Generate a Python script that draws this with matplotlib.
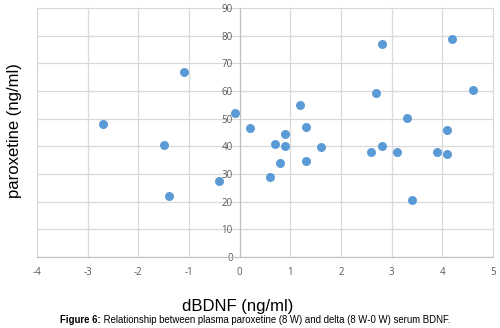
import matplotlib
matplotlib.use("Agg")
import matplotlib.pyplot as plt

plt.rcParams["axes.unicode_minus"] = False  # plain hyphen for negatives, like Excel

# ── Data ─────────────────────────────────────────────────────────────
dbdnf = [-2.7, -1.5, -1.4, -1.1, -0.4, -0.1, 0.2, 0.6, 0.7, 0.8, 0.9, 0.9,
         1.2, 1.3, 1.3, 1.6, 2.6, 2.7, 2.8, 2.8, 3.1, 3.3, 3.4, 3.9,
         4.1, 4.1, 4.2, 4.6]
paroxetine = [48.0, 40.6, 22.0, 67.0, 27.6, 52.0, 46.7, 28.9, 40.9, 33.9, 44.6, 40.2,
              55.0, 47.1, 34.6, 39.8, 38.0, 59.1, 77.1, 40.1, 37.9, 50.3, 20.7, 38.0,
              45.8, 37.1, 78.8, 60.3]
x_ticks = list(range(-4, 6))
y_ticks = list(range(0, 100, 10))

fig = plt.figure(figsize=(5, 3.28), dpi=100)
fig.patch.set_facecolor("white")
ax = fig.add_axes([37 / 500, 1 - 257 / 328, 456 / 500, 249 / 328])

ax.scatter(dbdnf, paroxetine, s=42, color="#5B9BD5", zorder=3, linewidths=0)

ax.set_xlim(-4, 5)
ax.set_ylim(0, 90)
ax.set_xticks(x_ticks)
ax.set_yticks(y_ticks)

# gridlines — Excel style, light grey
ax.grid(True, color="#D9D9D9", linewidth=0.9)
ax.set_axisbelow(True)
for line in ax.get_xgridlines() + ax.get_ygridlines():
    line.set_clip_on(False)

# vertical axis sits at x = 0
ax.spines["left"].set_position(("data", 0))
ax.spines["left"].set_color("#BFBFBF")
ax.spines["bottom"].set_color("#BFBFBF")
ax.spines["top"].set_visible(False)
ax.spines["right"].set_visible(False)

ax.tick_params(length=0, labelsize=7, labelcolor="#595959")
ax.tick_params(axis="x", pad=7)
ax.tick_params(axis="y", pad=5)
for lbl in ax.get_xticklabels() + ax.get_yticklabels():
    lbl.set_family("Open Sans")

# axis titles
fig.text(238 / 500, 1 - 306 / 328, "dBDNF (ng/ml)", fontsize=12,
         family="Liberation Sans", ha="center", va="center")
fig.text(15 / 500, 1 - 131 / 328, "paroxetine (ng/ml)", fontsize=12,
         family="Liberation Sans", rotation=90, ha="center", va="center")

# caption — bold label followed by normal text
cap1 = fig.text(60 / 500, 1 - 323 / 328, "Figure 6:", fontsize=6.9,
                family="Liberation Sans", fontweight="bold", ha="left",
                va="baseline")
ax.annotate(" Relationship between plasma paroxetine (8 W) and delta "
            "(8 W-0 W) serum BDNF.", xy=(1, 0), xycoords=cap1,
            fontsize=6.9, family="Liberation Sans", ha="left", va="bottom",
            annotation_clip=False)

fig.savefig("out.png", dpi=100, facecolor="white")
